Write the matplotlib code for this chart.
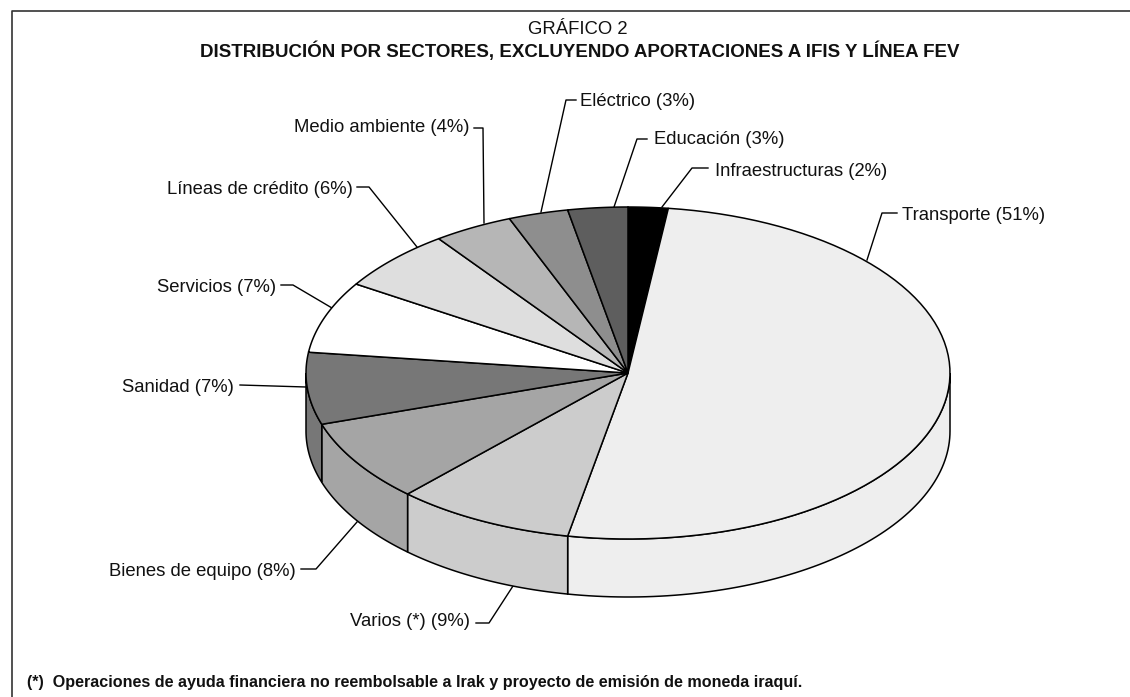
import numpy as np
import matplotlib
matplotlib.use("Agg")
import matplotlib.pyplot as plt
from matplotlib.patches import Polygon

plt.rcParams['font.family'] = ['Liberation Sans', 'DejaVu Sans']

# clockwise from 12 o'clock
sectors = ["Infraestructuras", "Transporte", "Varios (*)", "Bienes de equipo", "Sanidad",
           "Servicios", "Líneas de crédito", "Medio ambiente", "Eléctrico", "Educación"]
values = [2, 51, 9, 8, 7, 7, 6, 4, 3, 3]
greys = ["#000000", "#eeeeee", "#cccccc", "#a5a5a5", "#777777",
         "#ffffff", "#dedede", "#b6b6b6", "#8e8e8e", "#5e5e5e"]

# label anchor (x, y, ha) and leader line, in pixels of the picture
label_pos = [(715, 172, "left"), (902, 216, "left"), (470, 622, "right"), (296, 572, "right"),
             (234, 388, "right"), (276, 287, "right"), (353, 190, "right"), (469, 127, "right"),
             (580, 102, "left"), (654, 140, "left")]
leaders = [[(708, 168), (692, 168), (662, 207)],
           [(897, 213), (882, 213), (867, 260)],
           [(476, 623), (489, 623), (513, 586)],
           [(301, 569), (316, 569), (357, 522)],
           [(240, 385), (306, 387)],
           [(281, 285), (293, 285), (332, 308)],
           [(357, 187), (369, 187), (417, 247)],
           [(474, 128), (483, 128), (484, 223)],
           [(576, 100), (566, 100), (541, 212)],
           [(647, 139), (637, 139), (614, 207)]]

cx, cy = 628, 373
rx, ry = 322, 166
depth = 58

fig = plt.figure(figsize=(11.3, 6.97), dpi=100)
ax = fig.add_axes([0, 0, 1, 1])
ax.set_xlim(0, 1130)
ax.set_ylim(697, 0)
ax.axis("off")


def arc(a, b):
    t = np.radians(np.linspace(a, b, 80))
    return np.column_stack([cx + rx * np.sin(t), cy - ry * np.cos(t)])


# outer frame
ax.plot([11.5, 11.5, 1130], [697, 10.5, 10.5], color="#333333", lw=1.2)

edges = np.cumsum([0] + values) / sum(values) * 360

# side wall, only the front half shows
for i in range(len(values)):
    a, b = max(edges[i], 90), min(edges[i + 1], 270)
    if a >= b:
        continue
    top = arc(a, b)
    low = top[::-1] + [0, depth]
    ax.add_patch(Polygon(np.vstack([top, low]), fc=greys[i], ec="black", lw=1.1, zorder=2))

# top face
for i in range(len(values)):
    pts = np.vstack([[cx, cy], arc(edges[i], edges[i + 1])])
    ax.add_patch(Polygon(pts, fc=greys[i], ec="black", lw=1.1, zorder=3))

for i, name in enumerate(sectors):
    x, y, ha = label_pos[i]
    ax.text(x, y, f"{name} ({values[i]}%)", ha=ha, va="center", fontsize=13.3, color="#111111")
    lx, ly = zip(*leaders[i])
    ax.plot(lx, ly, color="black", lw=1.0, zorder=1)

ax.text(578, 29, "GRÁFICO 2", ha="center", va="center", fontsize=13.3, color="#111111")
ax.text(580, 51, "DISTRIBUCIÓN POR SECTORES, EXCLUYENDO APORTACIONES A IFIS Y LÍNEA FEV",
        ha="center", va="center", fontsize=13.5, fontweight="bold", color="#111111")
ax.text(27, 682, "(*)  Operaciones de ayuda financiera no reembolsable a Irak y proyecto de emisión de moneda iraquí.",
        ha="left", va="center", fontsize=11.6, fontweight="bold", color="#111111")

fig.savefig("out.png", dpi=100)
